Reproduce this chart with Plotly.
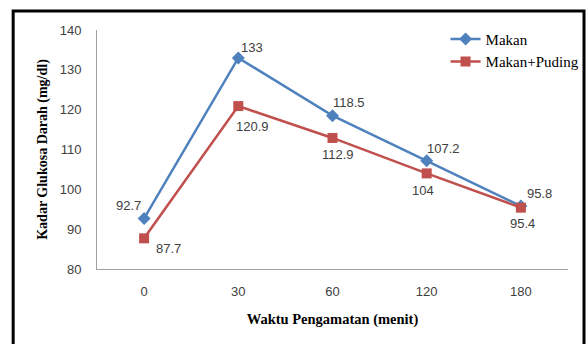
import plotly.graph_objects as go

categories = ["0", "30", "60", "120", "180"]
makan = [92.7, 133, 118.5, 107.2, 95.8]
makan_puding = [87.7, 120.9, 112.9, 104, 95.4]
y_ticks = [80, 90, 100, 110, 120, 130, 140]

# label offsets (pixels) – style only
makan_dx = [-16, 14, 16, 17, 19]
makan_dy = [13, 10, 13, 12, 13]
puding_dx = [24, 14, 5, -4, 2]
puding_dy = [-10, -20, -17, -17, -16]

BLUE = "#4F81BD"
RED = "#C0504D"
SANS = "Liberation Sans, Arial, sans-serif"
SERIF = "Liberation Serif, Times New Roman, serif"

fig = go.Figure()
fig.add_trace(go.Scatter(
    x=categories, y=makan, name="Makan", mode="lines+markers",
    line=dict(color=BLUE, width=2.5),
    marker=dict(symbol="diamond", size=10, color=BLUE),
))
fig.add_trace(go.Scatter(
    x=categories, y=makan_puding, name="Makan+Puding", mode="lines+markers",
    line=dict(color=RED, width=2.5),
    marker=dict(symbol="square", size=10, color=RED),
))

ann = []
for i, (v, dx, dy) in enumerate(zip(makan, makan_dx, makan_dy)):
    ann.append(dict(x=i, y=v, xref="x", yref="y", text=f"{v:g}", showarrow=False,
                    xshift=dx, yshift=dy,
                    font=dict(family=SANS, size=13, color="#404040")))
for i, (v, dx, dy) in enumerate(zip(makan_puding, puding_dx, puding_dy)):
    ann.append(dict(x=i, y=v, xref="x", yref="y", text=f"{v:g}", showarrow=False,
                    xshift=dx, yshift=dy,
                    font=dict(family=SANS, size=13, color="#404040")))

fig.update_layout(
    width=587, height=344,
    margin=dict(l=97, r=19, t=30, b=75, autoexpand=False),
    paper_bgcolor="white", plot_bgcolor="white",
    showlegend=True,
    legend=dict(x=0.74, y=1.03, xanchor="left", yanchor="top",
                font=dict(family=SERIF, size=15, color="black"),
                bgcolor="rgba(0,0,0,0)", tracegroupgap=2, itemwidth=30),
    annotations=ann,
    xaxis=dict(type="category", range=[-0.5, 4.5], showgrid=False, zeroline=False,
               showline=True, linecolor="#A0A0A0", linewidth=1, ticks="",
               ticklabelstandoff=10, automargin=False,
               tickfont=dict(family=SANS, size=13, color="#404040"),
               title=dict(text="<b>Waktu Pengamatan (menit)</b>", standoff=16,
                          font=dict(family=SERIF, size=14.5, color="black"))),
    yaxis=dict(range=[80, 140], tickvals=y_ticks, showgrid=False, zeroline=False,
               showline=True, linecolor="#A0A0A0", linewidth=1, ticks="",
               ticklabelstandoff=12, automargin=False,
               tickfont=dict(family=SANS, size=13, color="#404040"),
               title=dict(text="<b>Kadar Glukosa Darah (mg/dl)</b>", standoff=8,
                          font=dict(family=SERIF, size=14, color="black"))),
    shapes=[dict(type="rect", xref="paper", yref="paper",
                 x0=-0.178, x1=1.034, y0=-0.38, y1=1.0795,
                 line=dict(color="black", width=3), layer="below")],
)

fig.write_html(
    "out.html",
    config={"displayModeBar": False},
    post_script="document.body.style.margin='0';document.body.style.overflow='hidden';",
)
